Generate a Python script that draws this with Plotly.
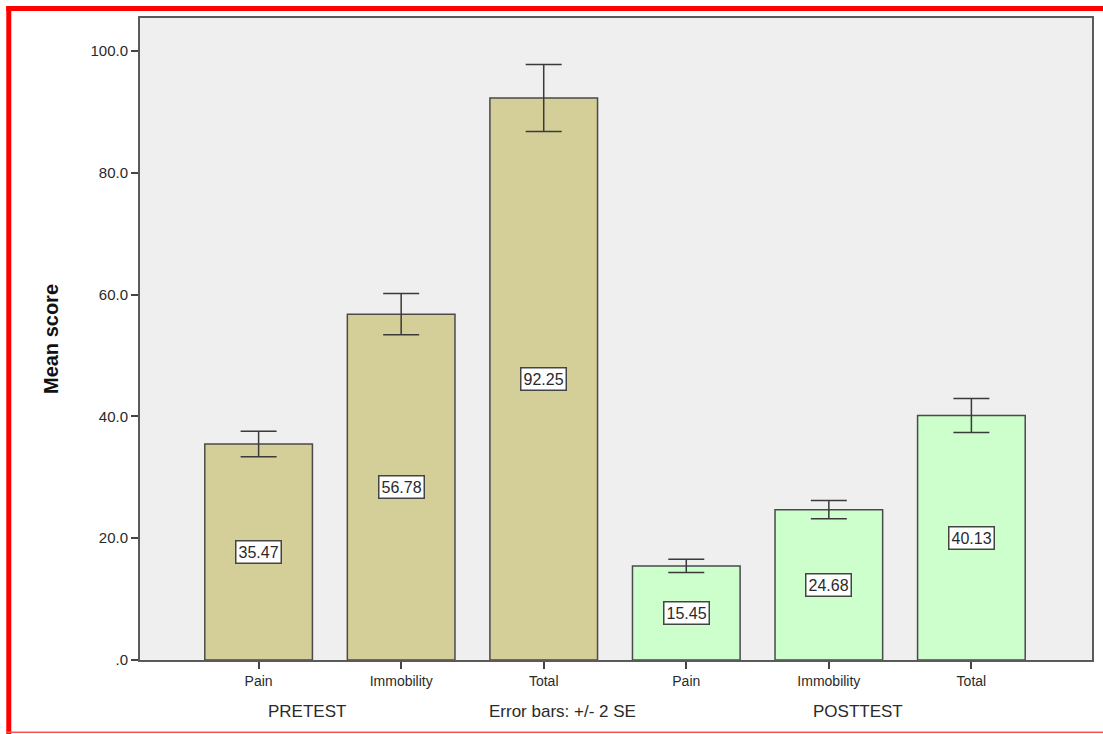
import plotly.graph_objects as go

# Mean scores by phase and subscale
categories = ["Pain", "Immobility", "Total", "Pain", "Immobility", "Total"]
phases = ["PRETEST", "PRETEST", "PRETEST", "POSTTEST", "POSTTEST", "POSTTEST"]
mean_scores = [35.47, 56.78, 92.25, 15.45, 24.68, 40.13]
two_se = [2.1, 3.4, 5.5, 1.1, 1.5, 2.8]
y_ticks = [0, 20, 40, 60, 80, 100]
y_tick_text = [".0", "20.0", "40.0", "60.0", "80.0", "100.0"]

phase_colors = {"PRETEST": "#d4cf98", "POSTTEST": "#ccffcc"}
positions = list(range(len(categories)))

W, H = 1103, 734
ML, MR, MT, MB = 140, 9, 18, 74
pw, ph = W - ML - MR, H - MT - MB


def px_x(x):
    return (x - ML) / pw


def px_y(y):
    return (H - MB - y) / ph


fig = go.Figure()
fig.add_trace(go.Bar(
    x=positions,
    y=mean_scores,
    width=0.755,
    marker=dict(color=[phase_colors[p] for p in phases],
                line=dict(color="#4a4a4a", width=1.5)),
    error_y=dict(type="data", array=two_se, visible=True,
                 color="#3a3a3a", thickness=1.5, width=18),
    hoverinfo="x+y",
))

# value labels in the middle of each bar
for x, v in zip(positions, mean_scores):
    fig.add_annotation(
        x=x, y=v / 2, text=f"{v:.2f}", showarrow=False,
        font=dict(family="Liberation Sans, Arial", size=16, color="#2a2a2a"),
        bgcolor="white", bordercolor="#444", borderwidth=1.5, borderpad=2,
    )

# phase labels and note under the axis
for xp, txt in [(307, "PRETEST"), (563, "Error bars: +/- 2 SE"), (860, "POSTTEST")]:
    fig.add_annotation(
        x=px_x(xp), y=px_y(711), xref="paper", yref="paper",
        text=txt, showarrow=False, xanchor="center", yanchor="middle",
        font=dict(family="Liberation Sans, Arial", size=17, color="#2a2a2a"),
    )

# red frame around the figure
red = "#ff0000"
fig.add_shape(type="rect", xref="paper", yref="paper",
              x0=px_x(6), x1=px_x(W + 5), y0=px_y(6), y1=px_y(11),
              fillcolor=red, line_width=0, layer="above")
fig.add_shape(type="rect", xref="paper", yref="paper",
              x0=px_x(6), x1=px_x(11), y0=px_y(6), y1=px_y(H + 2),
              fillcolor=red, line_width=0, layer="above")
fig.add_shape(type="rect", xref="paper", yref="paper",
              x0=px_x(6), x1=px_x(W + 5), y0=px_y(731.5), y1=px_y(733),
              fillcolor="#ff5050", line_width=0, layer="above")

fig.update_layout(
    width=W, height=H,
    margin=dict(l=ML, r=MR, t=MT, b=MB),
    paper_bgcolor="white",
    plot_bgcolor="#efefef",
    showlegend=False,
    font=dict(family="Liberation Sans, Arial", color="#2a2a2a"),
    xaxis=dict(
        range=[-0.832, 5.846],
        tickvals=positions, ticktext=categories,
        ticks="outside", ticklen=7, tickwidth=1.5, tickcolor="#444",
        tickfont=dict(size=14, color="#2a2a2a"),
        showline=True, linecolor="#5a5a5a", linewidth=2, mirror=True,
        showgrid=False, zeroline=False,
    ),
    yaxis=dict(
        range=[0, 105.4],
        tickvals=y_ticks, ticktext=y_tick_text,
        ticks="outside", ticklen=7, tickwidth=1.5, tickcolor="#444",
        tickfont=dict(size=15, color="#2a2a2a"),
        showline=True, linecolor="#5a5a5a", linewidth=2, mirror=True,
        showgrid=False, zeroline=False,
        title=dict(text="<b>Mean score</b>", standoff=26,
                   font=dict(size=20, color="#111")),
    ),
)

fig.write_html("out.html")
